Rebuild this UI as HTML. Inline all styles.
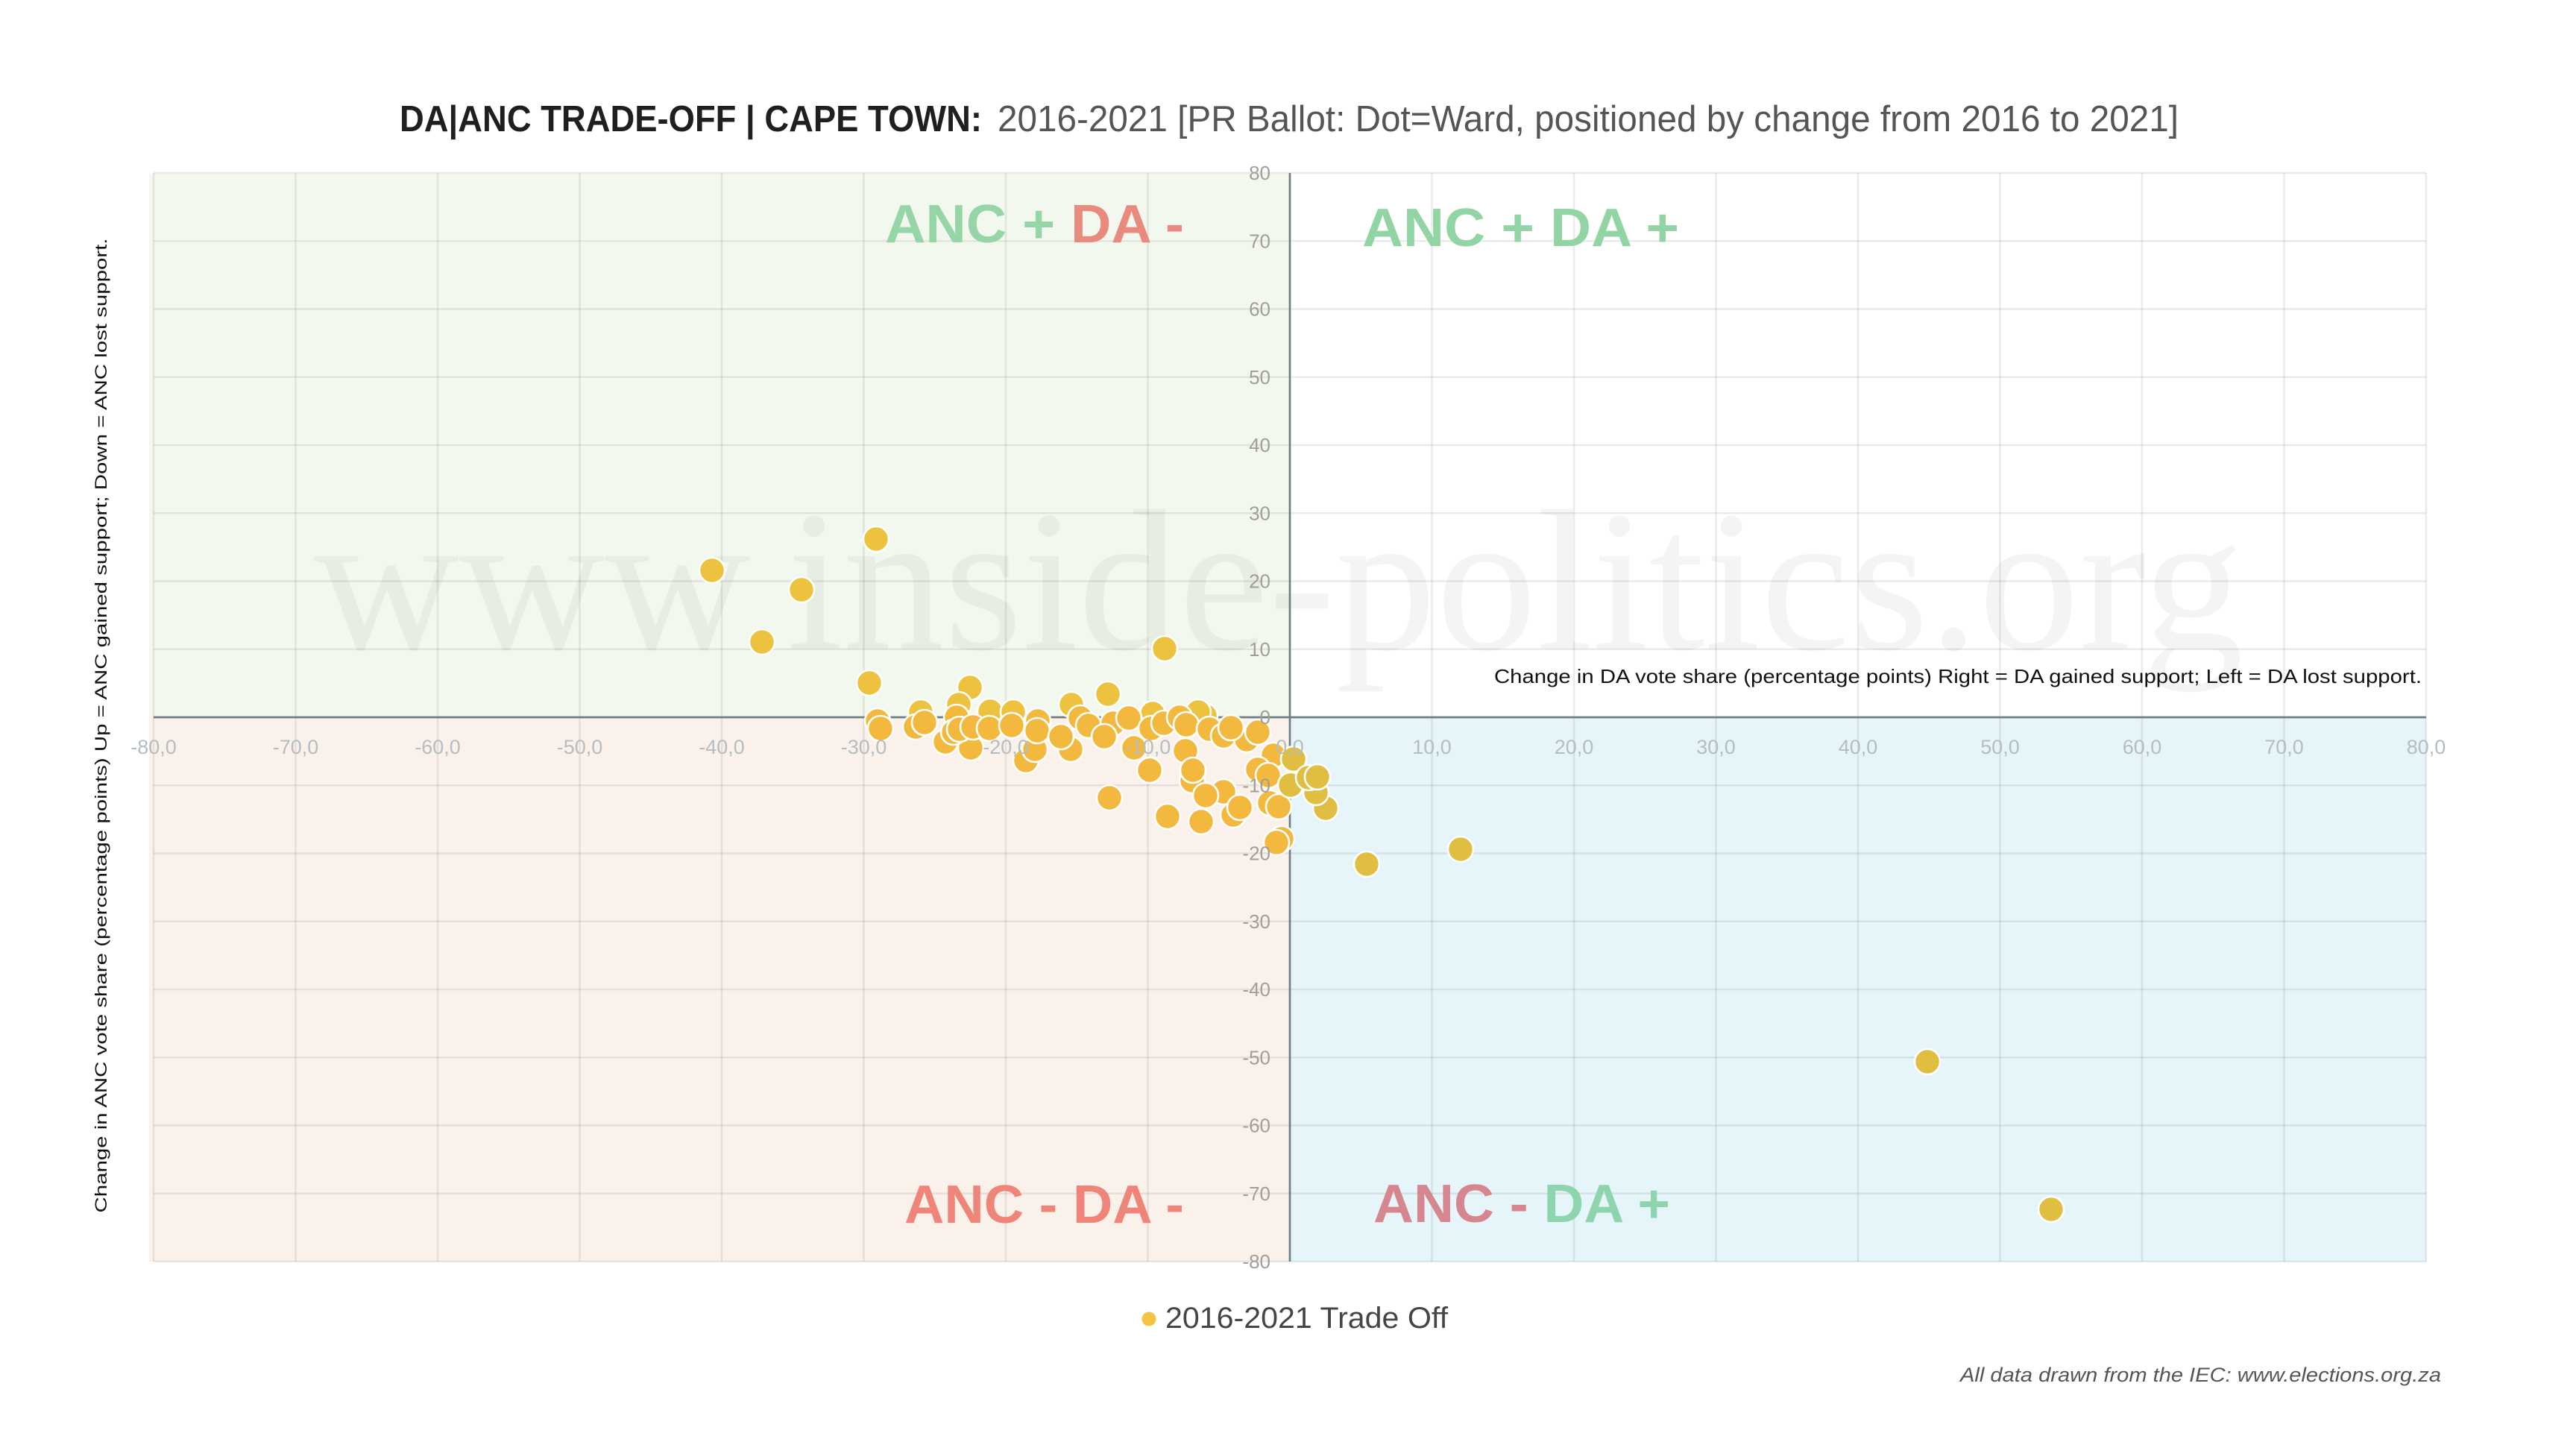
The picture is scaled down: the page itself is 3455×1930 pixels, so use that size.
<!DOCTYPE html>
<html>
<head>
<meta charset="utf-8">
<style>
  html, body { margin: 0; padding: 0; background: #ffffff; }
  svg { display: block; }
  .yt { font-family: "Liberation Sans", sans-serif; font-size: 26px; fill: #a19d99; }
  .xt { font-family: "Liberation Sans", sans-serif; font-size: 27px; fill: #b4bdc1; }
</style>
</head>
<body>
<svg width="3455" height="1930" viewBox="0 0 3455 1930" xmlns="http://www.w3.org/2000/svg">
  <rect x="0" y="0" width="3455" height="1930" fill="#ffffff"/>

  <!-- Title -->
  <text x="536" y="176" font-family="Liberation Sans, sans-serif" font-size="49" font-weight="bold" fill="#1f1f1f" textLength="781" lengthAdjust="spacingAndGlyphs">DA|ANC TRADE-OFF | CAPE TOWN:</text>
  <text x="1338" y="176" font-family="Liberation Sans, sans-serif" font-size="49" fill="#555555" textLength="1584" lengthAdjust="spacingAndGlyphs">2016-2021 [PR Ballot: Dot=Ward, positioned by change from 2016 to 2021]</text>

  <!-- Quadrant backgrounds -->
  <rect x="200" y="233" width="1530" height="729" fill="#f3f8ee"/>
  <rect x="1730" y="233" width="1524" height="729" fill="#ffffff"/>
  <rect x="200" y="962" width="1530" height="730" fill="#faf1eb"/>
  <rect x="1730" y="962" width="1524" height="730" fill="#e6f5fa"/>

  <!-- Watermark -->
  <text x="421" y="870" font-family="Liberation Serif, serif" font-size="270" fill="#000000" fill-opacity="0.045" textLength="2588" lengthAdjust="spacingAndGlyphs">www.inside-politics.org</text>

  <!-- Grid -->
  <g stroke="#000000" stroke-opacity="0.08" stroke-width="2.5">
    <line x1="206" y1="232" x2="3254" y2="232"/>
    <line x1="206" y1="323.25" x2="3254" y2="323.25"/>
    <line x1="206" y1="414.5" x2="3254" y2="414.5"/>
    <line x1="206" y1="505.75" x2="3254" y2="505.75"/>
    <line x1="206" y1="597" x2="3254" y2="597"/>
    <line x1="206" y1="688.25" x2="3254" y2="688.25"/>
    <line x1="206" y1="779.5" x2="3254" y2="779.5"/>
    <line x1="206" y1="870.75" x2="3254" y2="870.75"/>
    <line x1="206" y1="1053.25" x2="3254" y2="1053.25"/>
    <line x1="206" y1="1144.5" x2="3254" y2="1144.5"/>
    <line x1="206" y1="1235.75" x2="3254" y2="1235.75"/>
    <line x1="206" y1="1327" x2="3254" y2="1327"/>
    <line x1="206" y1="1418.25" x2="3254" y2="1418.25"/>
    <line x1="206" y1="1509.5" x2="3254" y2="1509.5"/>
    <line x1="206" y1="1600.75" x2="3254" y2="1600.75"/>
    <line x1="206" y1="1692" x2="3254" y2="1692"/>

    <line x1="206" y1="232" x2="206" y2="1692"/>
    <line x1="396.5" y1="232" x2="396.5" y2="1692"/>
    <line x1="587" y1="232" x2="587" y2="1692"/>
    <line x1="777.5" y1="232" x2="777.5" y2="1692"/>
    <line x1="968" y1="232" x2="968" y2="1692"/>
    <line x1="1158.5" y1="232" x2="1158.5" y2="1692"/>
    <line x1="1349" y1="232" x2="1349" y2="1692"/>
    <line x1="1539.5" y1="232" x2="1539.5" y2="1692"/>
    <line x1="1920.5" y1="232" x2="1920.5" y2="1692"/>
    <line x1="2111" y1="232" x2="2111" y2="1692"/>
    <line x1="2301.5" y1="232" x2="2301.5" y2="1692"/>
    <line x1="2492" y1="232" x2="2492" y2="1692"/>
    <line x1="2682.5" y1="232" x2="2682.5" y2="1692"/>
    <line x1="2873" y1="232" x2="2873" y2="1692"/>
    <line x1="3063.5" y1="232" x2="3063.5" y2="1692"/>
    <line x1="3254" y1="232" x2="3254" y2="1692"/>
  </g>

  <!-- Zero axes -->
  <line x1="206" y1="962" x2="3254" y2="962" stroke="#717d84" stroke-width="2.7"/>
  <line x1="1730" y1="232" x2="1730" y2="1692" stroke="#717d84" stroke-width="2.7"/>

  <!-- Quadrant labels -->
  <text x="1187" y="325" font-family="Liberation Sans, sans-serif" font-size="72" font-weight="bold" textLength="401" lengthAdjust="spacingAndGlyphs"><tspan fill="#95d5a6">ANC + </tspan><tspan fill="#e88a7d">DA -</tspan></text>
  <text x="1827" y="330" font-family="Liberation Sans, sans-serif" font-size="72" font-weight="bold" fill="#93d4a5" textLength="425" lengthAdjust="spacingAndGlyphs">ANC + DA +</text>
  <text x="1213" y="1640" font-family="Liberation Sans, sans-serif" font-size="72" font-weight="bold" fill="#ef8579" textLength="375" lengthAdjust="spacingAndGlyphs">ANC - DA -</text>
  <text x="1842" y="1639" font-family="Liberation Sans, sans-serif" font-size="72" font-weight="bold" textLength="398" lengthAdjust="spacingAndGlyphs"><tspan fill="#d6868e">ANC - </tspan><tspan fill="#8ed4ad">DA +</tspan></text>

  <!-- X-axis annotation -->
  <text x="3248" y="916" text-anchor="end" font-family="Liberation Sans, sans-serif" font-size="26" fill="#111111" textLength="1244" lengthAdjust="spacingAndGlyphs">Change in DA vote share (percentage points) Right = DA gained support; Left = DA lost support.</text>

  <!-- Y-axis title -->
  <text transform="translate(143,973) rotate(-90)" text-anchor="middle" font-family="Liberation Sans, sans-serif" font-size="22" fill="#111111" textLength="1307" lengthAdjust="spacingAndGlyphs">Change in ANC vote share (percentage points) Up = ANC gained support; Down = ANC lost support.</text>

  <!-- Dots -->
  <g stroke="#ffffff" stroke-width="2.6">
    <circle cx="955" cy="765" r="17" fill="#ecc23f"/>
    <circle cx="1075" cy="791" r="17" fill="#ecc23f"/>
    <circle cx="1175" cy="723" r="17" fill="#ecc23f"/>
    <circle cx="1022" cy="861" r="17" fill="#ecc23f"/>
    <circle cx="1562" cy="870" r="17" fill="#ecc23f"/>
    <circle cx="1166" cy="916" r="17" fill="#ecc23f"/>
    <circle cx="1301" cy="922" r="17" fill="#ecc23f"/>
    <circle cx="1486" cy="931" r="17" fill="#ecc23f"/>
    <circle cx="1437" cy="945" r="17" fill="#ecc23f"/>
    <circle cx="1235" cy="955" r="17" fill="#ecc23f"/>
    <circle cx="1286" cy="945" r="17" fill="#ecc23f"/>
    <circle cx="1328" cy="954" r="17" fill="#ecc23f"/>
    <circle cx="1359" cy="955" r="17" fill="#ecc23f"/>
    <circle cx="1546" cy="957" r="17" fill="#ecc23f"/>
    <circle cx="1616" cy="960" r="17" fill="#ecc23f"/>
    <circle cx="1607" cy="955" r="17" fill="#ecc23f"/>

    <circle cx="1177" cy="967" r="17" fill="#f2b93e"/>
    <circle cx="1181" cy="977" r="17" fill="#f2b93e"/>
    <circle cx="1228" cy="975" r="17" fill="#f2b93e"/>
    <circle cx="1240" cy="969" r="17" fill="#f2b93e"/>
    <circle cx="1268" cy="995" r="17" fill="#f2b93e"/>
    <circle cx="1302" cy="1003" r="17" fill="#f2b93e"/>
    <circle cx="1283" cy="962" r="17" fill="#f2b93e"/>
    <circle cx="1279" cy="982" r="17" fill="#f2b93e"/>
    <circle cx="1287" cy="978" r="17" fill="#f2b93e"/>
    <circle cx="1305" cy="975" r="17" fill="#f2b93e"/>
    <circle cx="1327" cy="977" r="17" fill="#f2b93e"/>
    <circle cx="1376" cy="1020" r="17" fill="#f2b93e"/>
    <circle cx="1388" cy="1005" r="17" fill="#f2b93e"/>
    <circle cx="1357" cy="973" r="17" fill="#f2b93e"/>
    <circle cx="1392" cy="967" r="17" fill="#f2b93e"/>
    <circle cx="1391" cy="980" r="17" fill="#f2b93e"/>
    <circle cx="1436" cy="1005" r="17" fill="#f2b93e"/>
    <circle cx="1423" cy="988" r="17" fill="#f2b93e"/>
    <circle cx="1449" cy="963" r="17" fill="#f2b93e"/>
    <circle cx="1460" cy="973" r="17" fill="#f2b93e"/>
    <circle cx="1493" cy="970" r="17" fill="#f2b93e"/>
    <circle cx="1481" cy="988" r="17" fill="#f2b93e"/>
    <circle cx="1521" cy="1003" r="17" fill="#f2b93e"/>
    <circle cx="1514" cy="963" r="17" fill="#f2b93e"/>
    <circle cx="1544" cy="977" r="17" fill="#f2b93e"/>
    <circle cx="1561" cy="970" r="17" fill="#f2b93e"/>
    <circle cx="1542" cy="1033" r="17" fill="#f2b93e"/>
    <circle cx="1488" cy="1070" r="17" fill="#f2b93e"/>
    <circle cx="1566" cy="1095" r="17" fill="#f2b93e"/>
    <circle cx="1582" cy="962" r="17" fill="#f2b93e"/>
    <circle cx="1590" cy="1007" r="17" fill="#f2b93e"/>
    <circle cx="1591" cy="972" r="17" fill="#f2b93e"/>
    <circle cx="1599" cy="1047" r="17" fill="#f2b93e"/>
    <circle cx="1600" cy="1033" r="17" fill="#f2b93e"/>
    <circle cx="1641" cy="1062" r="17" fill="#f2b93e"/>
    <circle cx="1617" cy="1067" r="17" fill="#f2b93e"/>
    <circle cx="1611" cy="1102" r="17" fill="#f2b93e"/>
    <circle cx="1654" cy="1093" r="17" fill="#f2b93e"/>
    <circle cx="1663" cy="1083" r="17" fill="#f2b93e"/>
    <circle cx="1622" cy="978" r="17" fill="#f2b93e"/>
    <circle cx="1641" cy="987" r="17" fill="#f2b93e"/>
    <circle cx="1672" cy="992" r="17" fill="#f2b93e"/>
    <circle cx="1651" cy="976" r="17" fill="#f2b93e"/>
    <circle cx="1687" cy="982" r="17" fill="#f2b93e"/>
    <circle cx="1708" cy="1013" r="17" fill="#f2b93e"/>
    <circle cx="1687" cy="1032" r="17" fill="#f2b93e"/>
    <circle cx="1701" cy="1040" r="17" fill="#f2b93e"/>
    <circle cx="1703" cy="1077" r="17" fill="#f2b93e"/>
    <circle cx="1715" cy="1082" r="17" fill="#f2b93e"/>
    <circle cx="1719" cy="1125" r="17" fill="#f2b93e"/>
    <circle cx="1712" cy="1130" r="17" fill="#f2b93e"/>

    <circle cx="1735" cy="1018" r="17" fill="#dfbe42"/>
    <circle cx="1731" cy="1053" r="17" fill="#dfbe42"/>
    <circle cx="1778" cy="1084" r="17" fill="#dfbe42"/>
    <circle cx="1765" cy="1063" r="17" fill="#dfbe42"/>
    <circle cx="1755" cy="1043" r="17" fill="#dfbe42"/>
    <circle cx="1767" cy="1042" r="17" fill="#dfbe42"/>
    <circle cx="1833" cy="1159" r="17" fill="#dfbe42"/>
    <circle cx="1959" cy="1139" r="17" fill="#dfbe42"/>
    <circle cx="2585" cy="1424" r="17" fill="#dfbe42"/>
    <circle cx="2751" cy="1622" r="17" fill="#dfbe42"/>
  </g>

  <!-- Y tick labels -->
  <g class="yt" text-anchor="end" dominant-baseline="central">
    <text x="1704" y="232">80</text>
    <text x="1704" y="323.25">70</text>
    <text x="1704" y="414.5">60</text>
    <text x="1704" y="505.75">50</text>
    <text x="1704" y="597">40</text>
    <text x="1704" y="688.25">30</text>
    <text x="1704" y="779.5">20</text>
    <text x="1704" y="870.75">10</text>
    <text x="1704" y="962">0</text>
    <text x="1704" y="1053.25">-10</text>
    <text x="1704" y="1144.5">-20</text>
    <text x="1704" y="1235.75">-30</text>
    <text x="1704" y="1327">-40</text>
    <text x="1704" y="1418.25">-50</text>
    <text x="1704" y="1509.5">-60</text>
    <text x="1704" y="1600.75">-70</text>
    <text x="1704" y="1692">-80</text>
  </g>

  <!-- X tick labels -->
  <g class="xt" text-anchor="middle" dominant-baseline="central">
    <text x="206" y="1002">-80,0</text>
    <text x="396.5" y="1002">-70,0</text>
    <text x="587" y="1002">-60,0</text>
    <text x="777.5" y="1002">-50,0</text>
    <text x="968" y="1002">-40,0</text>
    <text x="1158.5" y="1002">-30,0</text>
    <text x="1349" y="1002">-20,0</text>
    <text x="1539.5" y="1002">-10,0</text>
    <text x="1730" y="1002">0,0</text>
    <text x="1920.5" y="1002">10,0</text>
    <text x="2111" y="1002">20,0</text>
    <text x="2301.5" y="1002">30,0</text>
    <text x="2492" y="1002">40,0</text>
    <text x="2682.5" y="1002">50,0</text>
    <text x="2873" y="1002">60,0</text>
    <text x="3063.5" y="1002">70,0</text>
    <text x="3254" y="1002">80,0</text>
  </g>

  <!-- Legend -->
  <circle cx="1541" cy="1769" r="9.5" fill="#f5c342"/>
  <text x="1563" y="1781" font-family="Liberation Sans, sans-serif" font-size="40" fill="#454545" textLength="379" lengthAdjust="spacingAndGlyphs">2016-2021 Trade Off</text>

  <!-- Footnote -->
  <text x="3274" y="1853" text-anchor="end" font-family="Liberation Sans, sans-serif" font-size="27" font-style="italic" fill="#555555" textLength="645" lengthAdjust="spacingAndGlyphs">All data drawn from the IEC: www.elections.org.za</text>
</svg>
</body>
</html>
